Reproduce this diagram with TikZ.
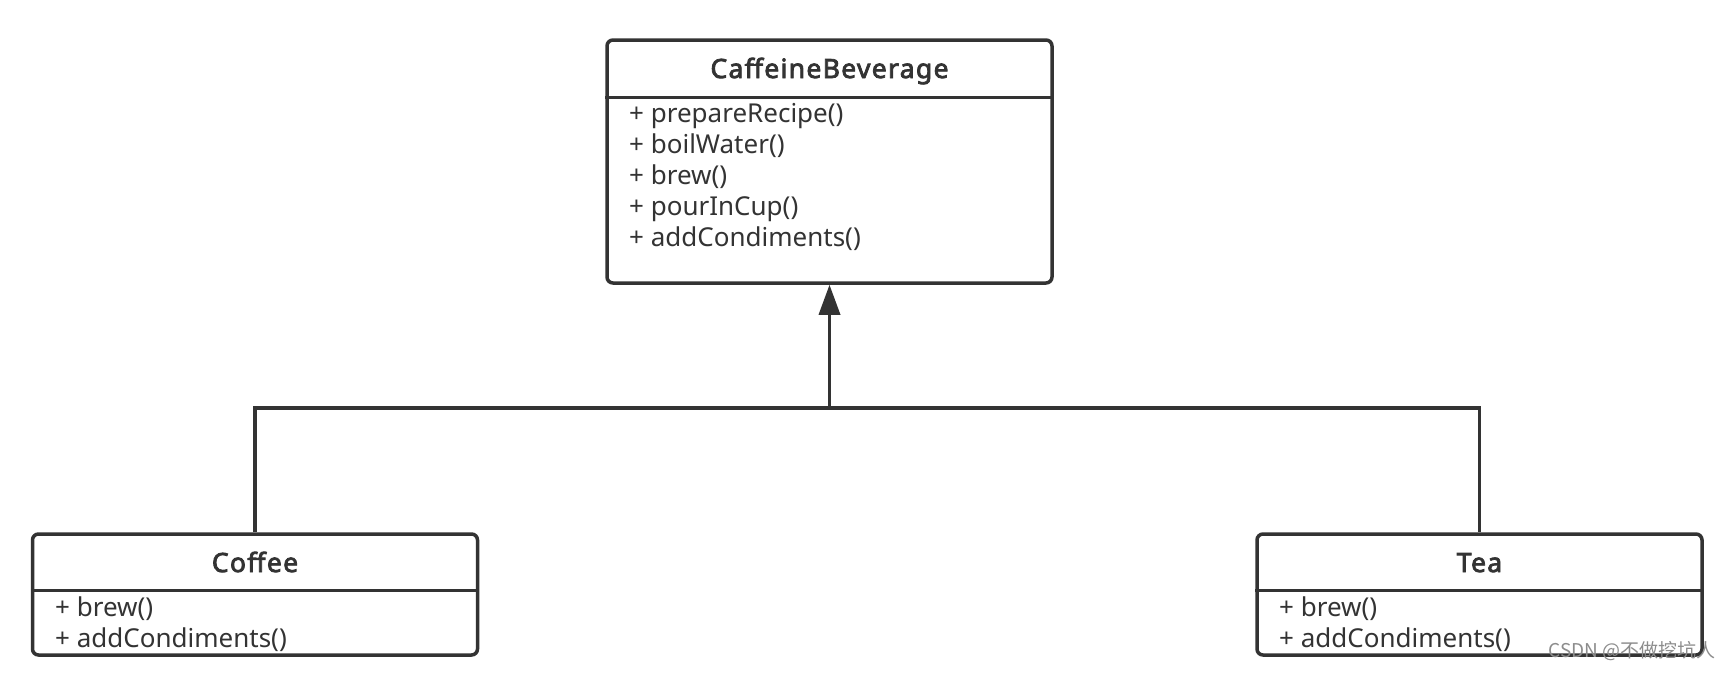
\documentclass[tikz,border=0pt]{standalone}
\usepackage{fontspec}
\setmainfont{Noto Sans}
\newfontfamily\titlefont{Noto Sans}[FakeBold=3, LetterSpace=5]
\newfontfamily\cjkfont{Noto Sans CJK SC}
\usetikzlibrary{arrows.meta, positioning}
\definecolor{umlgray}{HTML}{333333}
\definecolor{markgray}{HTML}{8C8C8C}
\tikzset{
  classbox/.style={draw=umlgray, line width=3.5pt, rounded corners=6pt, minimum width=445pt},
  classname/.style={font=\titlefont\fontsize{26.5}{31}\selectfont, text=umlgray, anchor=base, inner sep=0pt},
  classops/.style={font=\fontsize{26}{31}\selectfont, text=umlgray, align=left, anchor=base west, inner sep=0pt},
  inherit/.style={draw=umlgray, line width=3.5pt},
}

\begin{document}
\begin{tikzpicture}[x=1pt, y=-1pt]
		\useasboundingbox (0,0) rectangle (1732,672);
		
		% Abstract class
		\node[classbox, minimum height=243pt] (base) at (829.5,161.5) {};
		\draw[inherit] ([yshift=-59pt]base.north west) -- ([yshift=-59pt]base.north east);
		\node[classname] (basename) at (829.5,78) {CaffeineBeverage};
		\node[classops] (baseops) at (629,246) {+ prepareRecipe()\\+ boilWater()\\+ brew()\\+ pourInCup()\\+ addCondiments()};
		
		% Subclasses
		\node[classbox, minimum height=121pt] (coffee) at (255,594.5) {};
		\draw[inherit] ([yshift=-58pt]coffee.north west) -- ([yshift=-58pt]coffee.north east);
		\node[classname] (coffeename) at (255,572) {Coffee};
		\node[classops] (coffeeops) at (55,647) {+ brew()\\+ addCondiments()};
		
		\node[classbox, minimum height=121pt] (tea) at (1479.5,594.5) {};
		\draw[inherit] ([yshift=-58pt]tea.north west) -- ([yshift=-58pt]tea.north east);
		\node[classname] (teaname) at (1479.5,572) {Tea};
		\node[classops] (teaops) at (1279,647) {+ brew()\\+ addCondiments()};
		
		% Generalization
		\coordinate (join) at (829.5,408);
		\draw[inherit] (coffee.north) |- (join) -| (tea.north);
		\draw[inherit, -{Triangle[length=30pt, width=21pt]}] (join) -- (base.south);
		
		% Watermark
		\node[font=\cjkfont\fontsize{19}{19}\selectfont, text=markgray, anchor=base east, inner sep=0pt] (mark) at (1716,657) {CSDN @不做挖坑人};
	\end{tikzpicture}
\end{document}
